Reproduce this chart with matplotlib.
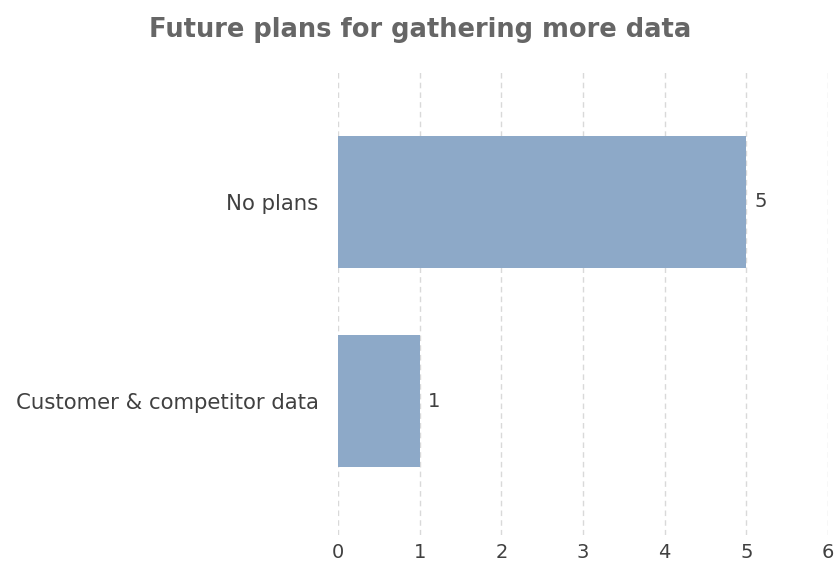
import matplotlib
matplotlib.use("Agg")
import matplotlib.pyplot as plt

categories = ["Customer & competitor data", "No plans"]
counts = [1, 5]
x_ticks = [0, 1, 2, 3, 4, 5, 6]

BAR = "#8da9c8"
TEXT = "#404040"

fig = plt.figure(figsize=(8.36, 5.63), dpi=100)
ax = fig.add_axes([0.4043, 0.0497, 0.5861, 0.826])

y = list(range(len(categories)))
ax.barh(y, counts, height=0.66, color=BAR, zorder=2)
for yi, v in zip(y, counts):
    ax.text(v + 0.1, yi, str(v), va="center", ha="left", fontsize=14, color=TEXT)

ax.set_xlim(0, 6)
ax.set_ylim(-0.673, 1.663)
ax.set_xticks(x_ticks)
ax.set_xticklabels([str(t) for t in x_ticks])
ax.set_yticks(y)
ax.set_yticklabels(categories)
ax.tick_params(axis="x", length=0, labelsize=14, labelcolor=TEXT, pad=6)
ax.tick_params(axis="y", length=0, labelsize=15.3, labelcolor=TEXT, pad=14)
for s in ax.spines.values():
    s.set_visible(False)
ax.xaxis.grid(True, color="#d9d9d9", ls=(0, (4, 3)), lw=1, zorder=0)
ax.set_axisbelow(True)

fig.suptitle("Future plans for gathering more data", x=0.503, y=0.97,
             fontsize=18.5, color="#666666", fontweight="bold")

fig.savefig("out.png", dpi=100)
